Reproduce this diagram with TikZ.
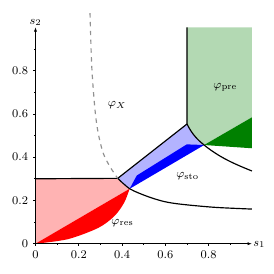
\documentclass[tikz,border=0pt]{standalone}
\usetikzlibrary{arrows.meta}
\definecolor{lightred}{RGB}{255,179,179}
\definecolor{lightblue}{RGB}{179,179,255}
\definecolor{darkgreen}{RGB}{0,128,0}
\definecolor{lightgreen}{RGB}{179,217,179}
\definecolor{dashgray}{RGB}{145,145,145}
\tikzset{
  boundary/.style={line width=0.8pt, black, line join=round},
  guide/.style={dashgray, dashed, line width=0.8pt},
  axisline/.style={line width=0.5pt, black, -{Latex[length=3pt,width=2.2pt]}},
  tickmark/.style={line width=0.4pt, black},
  ticklab/.style={font=\footnotesize, inner sep=0pt},
  regionlab/.style={font=\footnotesize, inner sep=0pt},
}
\begin{document}
\begin{tikzpicture}[x=5.194cm,y=5.194cm]
\useasboundingbox (-0.164,-0.140) rectangle (1.102,1.126);
% key points
\coordinate (C) at (0.38,0.302);
\coordinate (T) at (0.435,0.254);
\coordinate (K) at (0.7,0.553);
\coordinate (I) at (0.779,0.456);
% pink region
\fill[lightred] (0,0) -- (0,0.3) -- (C) .. controls (0.398,0.282) and (0.417,0.265) .. (T) -- cycle;
% red region
\fill[red] (0,0) -- (T) -- plot[smooth] coordinates {(0.435,0.254) (0.410,0.190) (0.365,0.128) (0.29,0.073) (0.15,0.021) (0,0)} -- cycle;
% light blue region
\fill[lightblue] (C) -- (K) .. controls (0.726,0.501) and (0.753,0.477) .. (I) -- (T) .. controls (0.417,0.265) and (0.398,0.282) .. (C) -- cycle;
% dark blue band
\fill[blue] (T) -- (0.468,0.315) -- (0.699,0.459) -- (I) -- cycle;
% light green region
\fill[lightgreen] (0.7,1) -- (1,1) -- (1,0.584) -- (I) .. controls (0.753,0.477) and (0.726,0.501) .. (K) -- cycle;
% dark green region
\fill[darkgreen] (I) -- (1,0.584) -- (1,0.441) -- cycle;
% boundaries
\draw[boundary] (0,0.3) -- (C) -- (K) -- (0.7,1);
\draw[boundary] (K) .. controls (0.726,0.501) and (0.753,0.477) .. (I) .. controls (0.853,0.396) and (0.926,0.366) .. (1,0.336);
\draw[boundary] plot[smooth] coordinates {(0.38,0.302) (0.437,0.253) (0.521,0.217) (0.598,0.194) (0.676,0.182) (0.829,0.168) (1.0,0.160)};
% dashed guide
\draw[guide] plot[smooth] coordinates {(0.252,1.065) (0.26,0.818) (0.275,0.618) (0.29,0.51) (0.313,0.418) (0.344,0.356) (0.38,0.302)};
% axes
\coordinate (O) at (0,0);
\coordinate (xend) at (1.0,0);
\coordinate (yend) at (0,1.0);
\draw[axisline] (O) -- (xend);
\draw[axisline] (O) -- (yend);
\foreach \v [count=\i] in {0,0.2,0.4,0.6,0.8} {
  \draw[tickmark] (\v,0.003) -- (\v,-0.010);
  \draw[tickmark] (0.003,\v) -- (-0.010,\v);
  \node[ticklab, anchor=north] (xl\i) at (\v,-0.030) {$\v$};
}
\foreach \v [count=\i] in {0.2,0.4,0.6,0.8} {
  \node[ticklab, anchor=east] (yl\i) at (-0.033,\v) {$\v$};
}
\node[ticklab, anchor=east] (yl0) at (-0.033,0) {$0$};
\foreach \v in {0.1,0.3,0.5,0.7,0.9} {
  \draw[tickmark] (\v,0) -- (\v,-0.006);
  \draw[tickmark] (0,\v) -- (-0.006,\v);
}
\node[ticklab] (s1) at (1.034,-0.004) {$s_1$};
\node[ticklab] (s2) at (0.0,1.022) {$s_2$};
% region labels
\node[regionlab] (phiX) at (0.377,0.641) {$\varphi_X$};
\node[regionlab] (phipre) at (0.877,0.722) {$\varphi_{\mathrm{pre}}$};
\node[regionlab] (phisto) at (0.703,0.312) {$\varphi_{\mathrm{sto}}$};
\node[regionlab] (phires) at (0.402,0.096) {$\varphi_{\mathrm{res}}$};
\end{tikzpicture}
\end{document}
